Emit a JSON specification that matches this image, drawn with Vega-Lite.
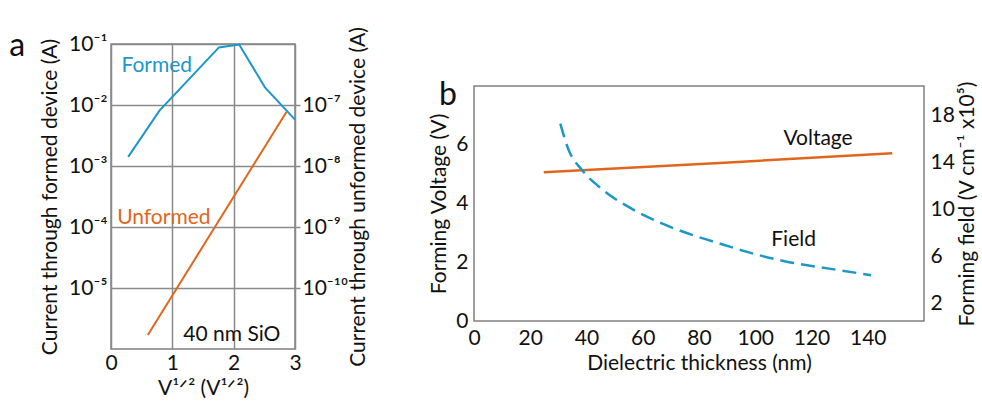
{
  "$schema": "https://vega.github.io/schema/vega-lite/v6.json",
  "padding": {"left": 8, "top": 25, "right": 0, "bottom": 0},
  "config": {
    "font": "Lato",
    "view": {"stroke": "#808080", "strokeWidth": 1.5},
    "axis": {
      "labelFont": "Lato", "titleFont": "Lato",
      "labelFontSize": 21, "titleFontSize": 21, "titleFontWeight": "normal",
      "labelColor": "#111111", "titleColor": "#111111",
      "domain": false, "ticks": false, "grid": false, "labelFlush": false
    }
  },
  "spacing": 58,
  "hconcat": [
    {
      "width": 184,
      "height": 305,
      "layer": [
        {
          "layer": [
            {
              "data": {"values": [
                {"x": 0.28, "y": 0.00141},
                {"x": 0.79, "y": 0.0081},
                {"x": 1.76, "y": 0.088},
                {"x": 2.09, "y": 0.098},
                {"x": 2.51, "y": 0.0195},
                {"x": 3.0, "y": 0.00575}
              ]},
              "mark": {"type": "line", "color": "#1b98c8", "strokeWidth": 2},
              "encoding": {
                "x": {"field": "x", "type": "quantitative",
                  "scale": {"domain": [0, 3]},
                  "axis": {"values": [0, 1, 2, 3], "format": "d", "grid": true, "gridColor": "#8a8a8a", "gridWidth": 1.5,
                    "title": "V¹ᐟ² (V¹ᐟ²)", "labelPadding": 3, "titlePadding": 4}},
                "y": {"field": "y", "type": "quantitative",
                  "scale": {"type": "log", "domain": [0.000001, 0.1]},
                  "axis": {"orient": "left", "values": [0.00001, 0.0001, 0.001, 0.01, 0.1],
                    "grid": true, "gridColor": "#8a8a8a", "gridWidth": 1.5,
                    "labelExpr": "'10' + ['', '⁻¹', '⁻²', '⁻³', '⁻⁴', '⁻⁵', '⁻⁶', '⁻⁷', '⁻⁸', '⁻⁹', '⁻¹⁰', '⁻¹¹'][round(-log(datum.value) / LN10)]",
                    "labelPadding": 4, "titlePadding": 8,
                    "title": "Current through formed device (A)"}}
              }
            },
            {
              "data": {"values": [
                {"label": "Formed", "kind": "Formed", "x": 0.17, "y": 0.044},
                {"label": "Unformed", "kind": "Unformed", "x": 0.1, "y": 0.000143},
                {"label": "40 nm SiO", "kind": "Note", "x": 1.18, "y": 0.0000017}
              ]},
              "mark": {"type": "text", "align": "left", "baseline": "middle", "fontSize": 21, "font": "Lato"},
              "encoding": {
                "x": {"field": "x", "type": "quantitative"},
                "y": {"field": "y", "type": "quantitative"},
                "text": {"field": "label"},
                "color": {"field": "kind", "type": "nominal",
                  "scale": {"domain": ["Formed", "Unformed", "Note"], "range": ["#1b98c8", "#e0661c", "#111111"]},
                  "legend": null}
              }
            },
            {
              "data": {"values": [{"label": "a", "x": -1.53, "y": 0.093}]},
              "mark": {"type": "text", "align": "center", "baseline": "middle", "fontSize": 32, "font": "Lato", "color": "#111111"},
              "encoding": {
                "x": {"field": "x", "type": "quantitative"},
                "y": {"field": "y", "type": "quantitative"},
                "text": {"field": "label"}
              }
            }
          ]
        },
        {
          "data": {"values": [
            {"x": 0.6, "y": 1.7e-11},
            {"x": 2.86, "y": 7.67e-8}
          ]},
          "mark": {"type": "line", "color": "#e0661c", "strokeWidth": 2},
          "encoding": {
            "x": {"field": "x", "type": "quantitative"},
            "y": {"field": "y", "type": "quantitative",
              "scale": {"type": "log", "domain": [1e-11, 0.000001]},
              "axis": {"orient": "right", "values": [1e-10, 1e-9, 1e-8, 1e-7],
                "ticks": true, "tickColor": "#8a8a8a", "tickSize": 5, "tickWidth": 1.5,
                "labelExpr": "'10' + ['', '⁻¹', '⁻²', '⁻³', '⁻⁴', '⁻⁵', '⁻⁶', '⁻⁷', '⁻⁸', '⁻⁹', '⁻¹⁰', '⁻¹¹'][round(-log(datum.value) / LN10)]",
                "labelPadding": 2, "titlePadding": 0, "titleAngle": 270, "titleBaseline": "top",
                "title": "Current through unformed device (A)"}}
          }
        }
      ],
      "resolve": {"scale": {"y": "independent"}}
    },
    {
      "spacing": 0,
      "bounds": "flush",
      "vconcat": [
        {
          "width": 450,
          "height": 42,
          "view": {"stroke": null},
          "data": {"values": []},
          "mark": "point"
        },
        {
          "width": 450,
          "height": 235,
          "layer": [
            {
              "layer": [
                {
                  "data": {"values": [
                    {"x": 24.8, "y": 5.06},
                    {"x": 89.0, "y": 5.39},
                    {"x": 148.7, "y": 5.71}
                  ]},
                  "mark": {"type": "line", "color": "#e0661c", "strokeWidth": 2.5},
                  "encoding": {
                    "x": {"field": "x", "type": "quantitative",
                      "scale": {"domain": [0, 150]},
                      "axis": {"values": [0, 20, 40, 60, 80, 100, 120, 140], "title": "Dielectric thickness (nm)",
                        "labelPadding": 6, "titlePadding": 4}},
                    "y": {"field": "y", "type": "quantitative",
                      "scale": {"domain": [0, 8]},
                      "axis": {"orient": "left", "values": [0, 2, 4, 6], "title": "Forming Voltage (V)",
                        "labelPadding": 6, "titlePadding": 6}}
                  }
                },
                {
                  "data": {"values": [
                    {"label": "Voltage", "x": 110, "y": 6.18},
                    {"label": "Field", "x": 105.7, "y": 2.76}
                  ]},
                  "mark": {"type": "text", "align": "left", "baseline": "middle", "fontSize": 21, "font": "Lato", "color": "#111111"},
                  "encoding": {
                    "x": {"field": "x", "type": "quantitative"},
                    "y": {"field": "y", "type": "quantitative"},
                    "text": {"field": "label"}
                  }
                },
                {
                  "data": {"values": [
                    {"label": "b", "x": -9.3, "y": 7.7}
                  ]},
                  "mark": {"type": "text", "align": "center", "baseline": "middle", "fontSize": 32, "font": "Lato", "color": "#111111"},
                  "encoding": {
                    "x": {"field": "x", "type": "quantitative"},
                    "y": {"field": "y", "type": "quantitative"},
                    "text": {"field": "label"}
                  }
                }
              ]
            },
            {
              "data": {"values": [
                {"x": 30.7, "y": 17.3},
                {"x": 33.4, "y": 15.2},
                {"x": 38.4, "y": 13.35},
                {"x": 44.6, "y": 11.9},
                {"x": 55.7, "y": 10.1},
                {"x": 66.8, "y": 8.8},
                {"x": 77.9, "y": 7.8},
                {"x": 89.0, "y": 6.97},
                {"x": 96.8, "y": 6.4},
                {"x": 111.2, "y": 5.55},
                {"x": 125.7, "y": 4.98},
                {"x": 141.2, "y": 4.4}
              ]},
              "mark": {"type": "line", "color": "#1b98c8", "strokeWidth": 2.5, "strokeDash": [14, 7], "interpolate": "monotone"},
              "encoding": {
                "x": {"field": "x", "type": "quantitative"},
                "y": {"field": "y", "type": "quantitative",
                  "scale": {"domain": [0.5, 20.5]},
                  "axis": {"orient": "right", "values": [2, 6, 10, 14, 18], "title": "Forming field (V cm⁻¹ x10⁵)",
                    "labelPadding": 6, "titlePadding": 2, "titleAngle": 270, "titleBaseline": "top"}}
              }
            }
          ],
          "resolve": {"scale": {"y": "independent"}}
        }
      ]
    }
  ]
}
